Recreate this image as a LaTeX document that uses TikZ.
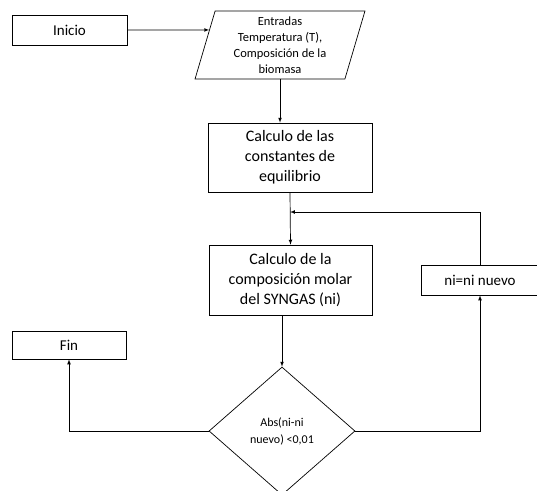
\documentclass[tikz,border=0pt]{standalone}
\usepackage{fontspec}
\setmainfont{Carlito}
\usepackage{tikz}
\usetikzlibrary{shapes.geometric}
\usetikzlibrary{positioning}

\begin{document}
\begin{tikzpicture}
    [
    x=1pt, y=-1pt,
    line width=0.7pt,
    box/.style={rectangle,draw,align=center,inner sep=2pt,font=\fontsize{16}{20}\selectfont},
    smallbox/.style={rectangle,draw,align=center,inner sep=2pt,font=\fontsize{15}{20}\selectfont},
    io/.style={trapezium,draw,trapezium left angle=76,trapezium right angle=104,
      trapezium stretches=true,align=center,inner sep=1pt,font=\fontsize{12.5}{16}\selectfont},
    decision/.style={diamond,draw,align=center,inner sep=1pt,font=\fontsize{12}{17}\selectfont}
    ]
    \useasboundingbox (0,0) rectangle (537,490);
    \node (inicio) at (69.5,30) [smallbox, minimum width=115pt, minimum height=30pt] {Inicio};
    \node (entradas) at (280,45) [io, minimum width=170pt, minimum height=68pt]
      {Entradas\\Temperatura (T),\\Composición de la\\biomasa};
    \node (const) at (290,157.5) [box, minimum width=164pt, minimum height=69pt]
      {Calculo de las\\constantes de\\equilibrio};
    \node (comp) at (290.5,280) [box, minimum width=163pt, minimum height=70pt]
      {Calculo de la\\composición molar\\del SYNGAS (ni)};
    \node (ninuevo) at (480,280) [smallbox, minimum width=118pt, minimum height=30pt] {ni=ni nuevo};
    \node (abs) at (282,431) [decision, minimum width=146pt, minimum height=128pt]
      {Abs(ni-ni\\nuevo) <0,01};
    \node (fin) at (69,345) [smallbox, minimum width=114pt, minimum height=28pt] {Fin};
    \coordinate (join) at (290,212);

    \draw [-latex] (inicio.east) to (entradas.168);
    \draw [-latex] (entradas.south) to (entradas.south |- const.north);
    \draw [-latex] (const.south) to (comp.north);
    \draw [-latex] (abs.north |- comp.south) to (abs.north);
    \draw [-latex] (abs.west) -| (fin.south);
    \draw [-latex] (abs.east) -| (ninuevo.south);
    \draw [-latex] (ninuevo.north) |- (join);
  \end{tikzpicture}
\end{document}
